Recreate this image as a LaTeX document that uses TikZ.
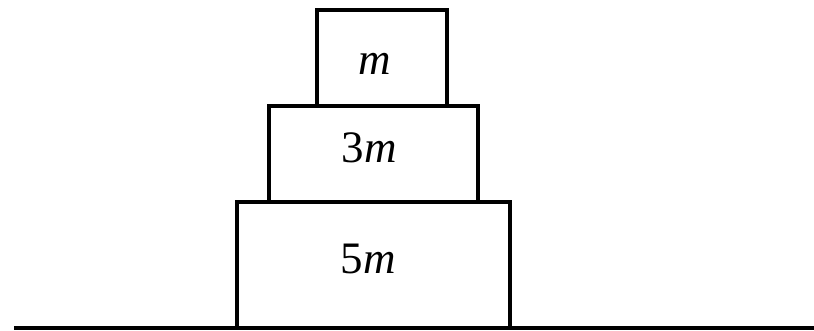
\documentclass[tikz,border=0pt]{standalone}
\usepackage{fontspec}
\setmainfont{Liberation Serif}
\begin{document}
\begin{tikzpicture}[x=1pt,y=-1pt,
  blk/.style={draw=black,line width=4pt,inner sep=0pt,outer sep=0pt,anchor=north west},
  lbl/.style={font=\fontsize{45}{50}\selectfont,anchor=base,inner sep=0pt}]
\useasboundingbox (0,0) rectangle (814,331);
\node[blk,minimum width=273pt,minimum height=126pt] (b5) at (237,202) {};
\node[blk,minimum width=209pt,minimum height=96pt] (b3) at (269,106) {};
\node[blk,minimum width=129.5pt,minimum height=96pt] (b1) at (317,10) {};
\node[lbl] (t1) at (375,75) {\itshape m};
\node[lbl] (t3) at (369,163) {3\textit{m}};
\node[lbl] (t5) at (368,273) {5\textit{m}};
\coordinate (g1) at (14,328);
\coordinate (g2) at (814,328);
\draw[line width=4pt] (g1) -- (g2);
\end{tikzpicture}
\end{document}
